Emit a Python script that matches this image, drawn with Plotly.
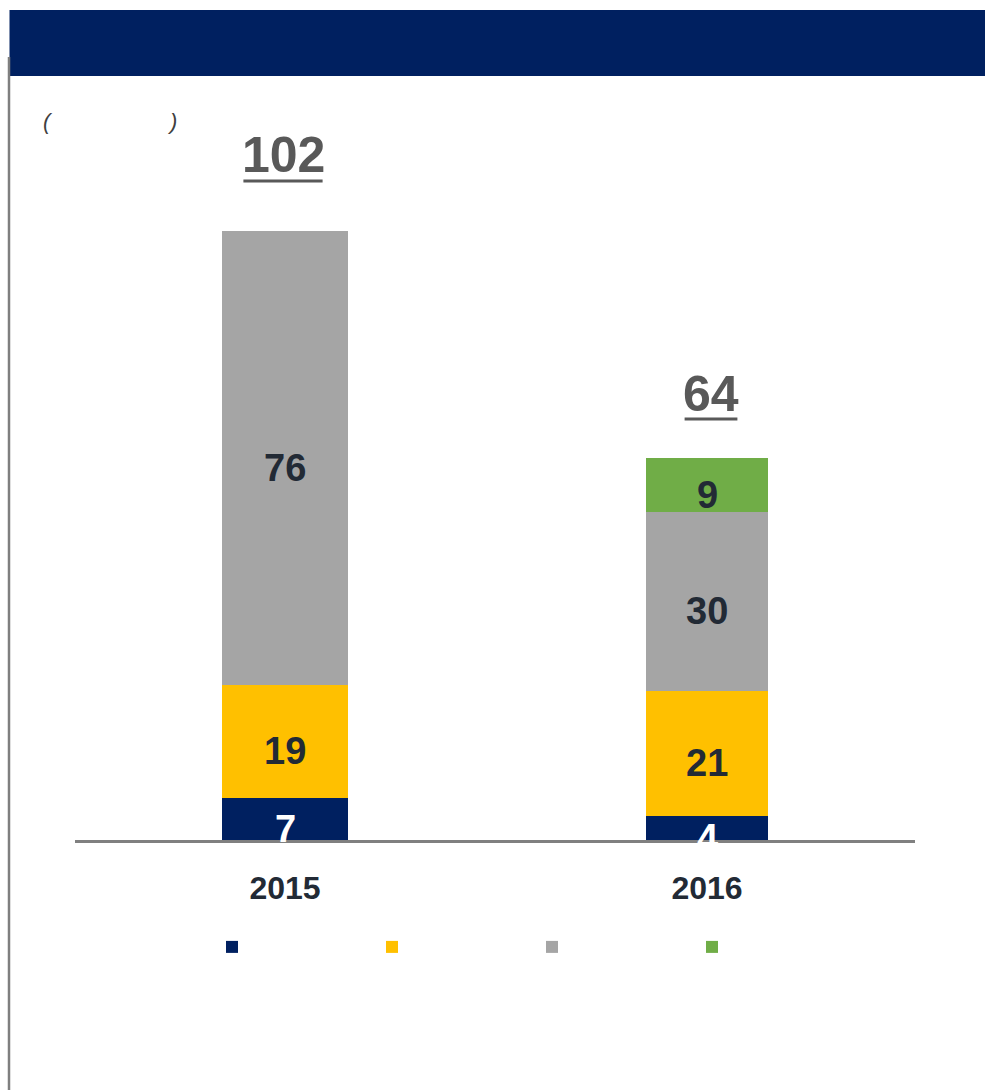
import plotly.graph_objects as go

# ---- data ----
categories = ["2015", "2016"]
series_names = ["", "", "", ""]
navy_vals = [7, 4]
yellow_vals = [19, 21]
gray_vals = [76, 30]
green_vals = [None, 9]
totals = [102, 64]

# ---- styles ----
colors = ["#002060", "#FFC000", "#A5A5A5", "#70AD47"]
label_colors = ["#FFFFFF", "#222A35", "#222A35", "#222A35"]
bar_widths = [0.298, 0.289]
FONT = "Liberation Sans, Arial, sans-serif"
W, H = 985, 1090
BASE_PX = 840
TOP_PX = 100
PX_PER_UNIT = 5.97
CAT_PX = 422
FIRST_CAT_PX = 285
AXIS_L, AXIS_R = 75, 915
total_text_shift_px = [76, 64]
total_line_shift_px = [50, 39]
total_xshift_px = [-2, 4]


def fx(px):
    return px / W


def fy(py):
    return (H - py) / H


series = [navy_vals, yellow_vals, gray_vals, green_vals]

fig = go.Figure()
for vals, col, nm in zip(series, colors, series_names):
    fig.add_trace(go.Bar(
        x=categories, y=vals, name=nm, marker=dict(color=col, line=dict(width=0)),
        width=bar_widths, showlegend=True, hoverinfo="x+y",
    ))

# segment labels at segment centres
for ci, cat in enumerate(categories):
    base = 0
    for si, vals in enumerate(series):
        v = vals[ci]
        if v is None:
            continue
        fig.add_annotation(
            x=ci, y=base + v / 2, xref="x", yref="y", text=f"<b>{v}</b>",
            showarrow=False, xanchor="center", yanchor="middle", yshift=-10,
            font=dict(family=FONT, size=38, color=label_colors[si]),
        )
        base += v

# totals with underline
for ci, (tot, tsh, lsh, xs) in enumerate(zip(totals, total_text_shift_px,
                                             total_line_shift_px, total_xshift_px)):
    fig.add_annotation(
        x=ci, y=tot, xref="x", yref="y", text=f"<b>{tot}</b>",
        showarrow=False, xanchor="center", yanchor="middle", yshift=tsh, xshift=xs,
        font=dict(family=FONT, size=50, color="#595959"),
    )
    half = len(str(tot)) * 13.2
    fig.add_shape(
        type="line", xref="x", yref="y",
        xsizemode="pixel", xanchor=ci, x0=xs - half, x1=xs + half,
        ysizemode="pixel", yanchor=tot, y0=lsh, y1=lsh,
        line=dict(color="#595959", width=3),
    )

# parentheses
for px_x, ch in [(48, "("), (172, ")")]:
    fig.add_annotation(
        x=fx(px_x), y=fy(122), xref="paper", yref="paper", text=f"<i>{ch}</i>",
        xanchor="center", yanchor="middle",
        showarrow=False, font=dict(family=FONT, size=22, color="#404040"),
    )

# header band and left rule
fig.add_shape(type="rect", xref="paper", yref="paper",
              x0=fx(9.5), x1=1.05, y0=fy(76), y1=fy(10),
              fillcolor="#002060", line=dict(width=0), layer="above")
fig.add_shape(type="line", xref="paper", yref="paper",
              x0=fx(9), x1=fx(9), y0=-0.05, y1=fy(57),
              line=dict(color="#7F7F7F", width=2.5))

y_range_top = (BASE_PX - TOP_PX) / PX_PER_UNIT
x_lo = -(FIRST_CAT_PX - AXIS_L) / CAT_PX
x_hi = (AXIS_R - FIRST_CAT_PX) / CAT_PX
fig.update_layout(
    width=W, height=H, margin=dict(l=0, r=0, t=0, b=0),
    paper_bgcolor="white", plot_bgcolor="white",
    barmode="stack",
    font=dict(family=FONT),
    xaxis=dict(
        domain=[fx(AXIS_L), fx(AXIS_R)], range=[x_lo, x_hi], type="category",
        showline=True, linecolor="#808080", linewidth=3, showgrid=False,
        zeroline=False, ticks="", ticklabelstandoff=18,
        tickfont=dict(family=FONT, size=32, color="#222A35"),
        tickprefix="<b>", ticksuffix="</b>",
    ),
    yaxis=dict(
        domain=[fy(BASE_PX), fy(TOP_PX)], range=[0, y_range_top],
        visible=False, showgrid=False, zeroline=False,
    ),
    legend=dict(
        orientation="h", x=fx(232 - 20), xanchor="left",
        y=fy(947), yanchor="middle", traceorder="normal",
        entrywidth=115, entrywidthmode="pixels",
        font=dict(family=FONT, size=16), bgcolor="rgba(0,0,0,0)",
    ),
)

fig.write_html(
    "out.html",
    config={"displayModeBar": False},
    post_script="document.body.style.margin='0';document.body.style.overflow='hidden';",
)
